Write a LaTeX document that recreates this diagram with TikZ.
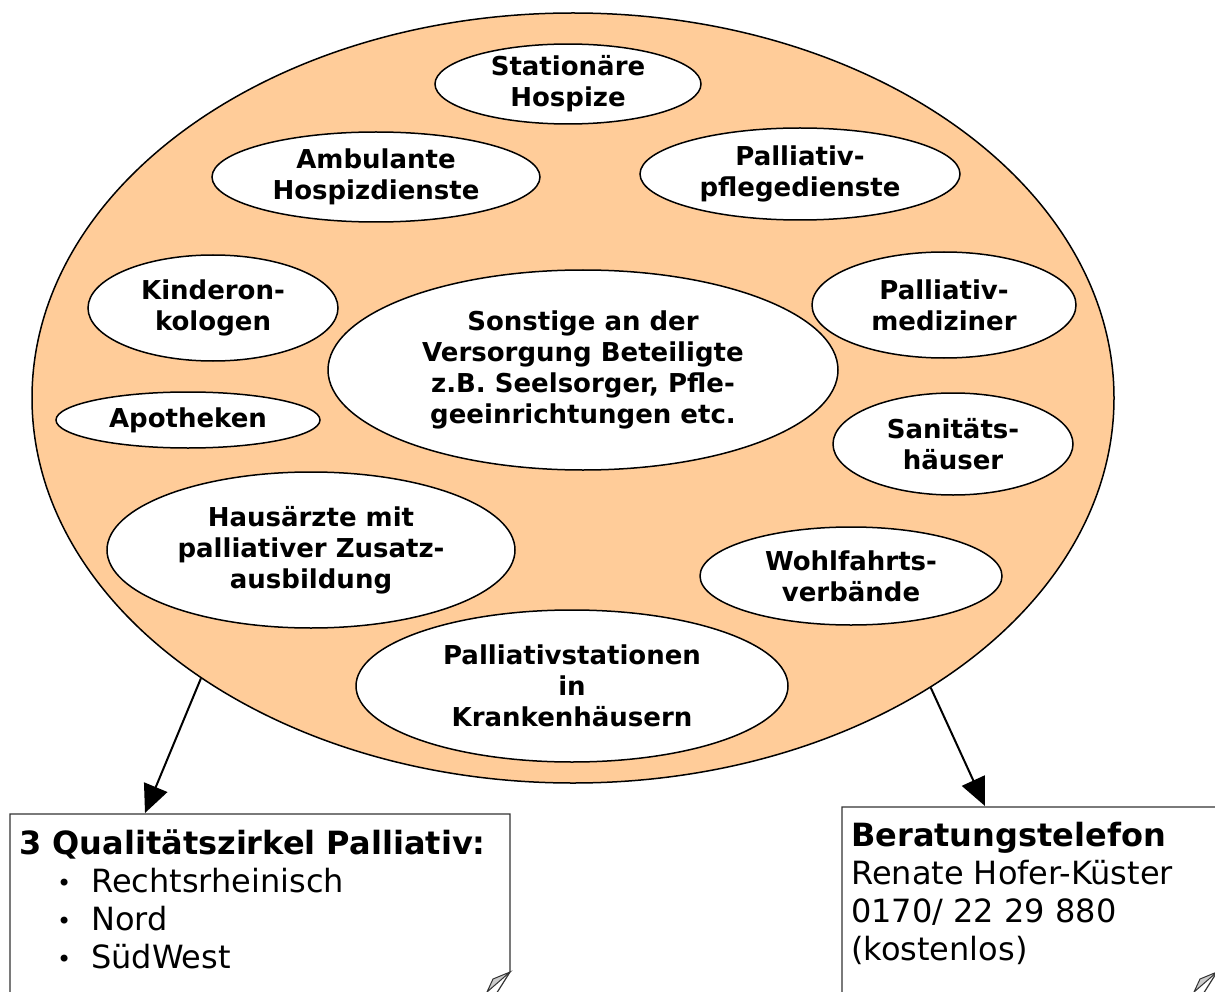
\documentclass[tikz,border=0pt]{standalone}
\usepackage{fontspec}
\setmainfont{DejaVu Sans}
\usetikzlibrary{shapes.geometric,arrows.meta}
\definecolor{peach}{RGB}{255,204,153}
\newcommand{\punkt}{\hspace*{38pt}\makebox[34pt][l]{\raisebox{1pt}{\fontsize{24}{38}\selectfont•}}}

\begin{document}
\begin{tikzpicture}[x=1pt, y=-1pt, every node/.style = {align=center},
    netz/.style = {ellipse, draw, line width=1.5pt, fill=peach, inner sep=0pt},
    bubble/.style = {ellipse, draw, line width=1.5pt, fill=white, inner sep=0pt,
        font=\bfseries\fontsize{26}{31}\selectfont},
    zettel/.style = {draw=black!80, line width=1.2pt, fill=white},
    knick/.style = {draw=black!80, line width=1pt, fill=black!20},
    zetteltext/.style = {anchor=north west, align=left, inner sep=0pt,
        font=\fontsize{32}{38}\selectfont},
    pfeil/.style = {line width=2pt, -{Triangle[length=28pt,width=25pt]}}]
    \useasboundingbox (0,0) rectangle (1215,992);
    % das Netz
    \node[netz, minimum width=1082pt, minimum height=770pt] (netz) at (573,398) {};
    \node[bubble, minimum width=266pt, minimum height=78pt] (hospize) at (568,84) {Stationäre\\Hospize};
    \node[bubble, minimum width=328pt, minimum height=90pt] (ambulant) at (376,177) {Ambulante\\Hospizdienste};
    \node[bubble, minimum width=320pt, minimum height=92pt] (pflege) at (800,174) {Palliativ-\\pflegedienste};
    \node[bubble, minimum width=250pt, minimum height=106pt] (kinder) at (213,308) {Kinderon-\\kologen};
    \node[bubble, minimum width=264pt, minimum height=106pt] (mediziner) at (944,305) {Palliativ-\\mediziner};
    \node[bubble, minimum width=510pt, minimum height=200pt] (sonstige) at (583,370) {Sonstige an der\\Versorgung Beteiligte\\z.B. Seelsorger, Pfle-\\geeinrichtungen etc.};
    \node[bubble, minimum width=264pt, minimum height=56pt] (apotheken) at (188,420) {Apotheken};
    \node[bubble, minimum width=240pt, minimum height=102pt] (sanitaet) at (953,444) {Sanitäts-\\häuser};
    \node[bubble, minimum width=408pt, minimum height=156pt] (hausarzt) at (311,550) {Hausärzte mit\\palliativer Zusatz-\\ausbildung};
    \node[bubble, minimum width=302pt, minimum height=98pt] (wohlfahrt) at (851,576) {Wohlfahrts-\\verbände};
    \node[bubble, minimum width=432pt, minimum height=152pt] (station) at (572,686) {Palliativstationen\\in\\Krankenhäusern};
    % die Zettel
    \draw[zettel] (10,814) -- (510,814) -- (510,972) -- (486,1010) -- (10,1010) -- cycle;
    \draw[knick] (510,972) -- (493,979) -- (487,992) -- cycle;
    \draw[zettel] (842,807) -- (1217,807) -- (1217,972) -- (1193,1010) -- (842,1010) -- cycle;
    \draw[knick] (1217,972) -- (1200,979) -- (1194,992) -- cycle;
    \node[zetteltext] (zirkel) at (19,830) {\textbf{3 Qualitätszirkel Palliativ:}\\
        \punkt Rechtsrheinisch\\
        \punkt Nord\\
        \punkt SüdWest};
    \node[zetteltext] (telefon) at (851,822) {\textbf{Beratungstelefon}\\
        Renate Hofer-Küster\\
        0170/ 22 29 880\\
        (kostenlos)};
    % die Pfeile
    \coordinate (zirkel-spitze) at (145,813);
    \coordinate (telefon-spitze) at (985,806);
    \draw[pfeil] (netz.217) -- (zirkel-spitze);
    \draw[pfeil] (netz.321.5) -- (telefon-spitze);
\end{tikzpicture}
\end{document}
